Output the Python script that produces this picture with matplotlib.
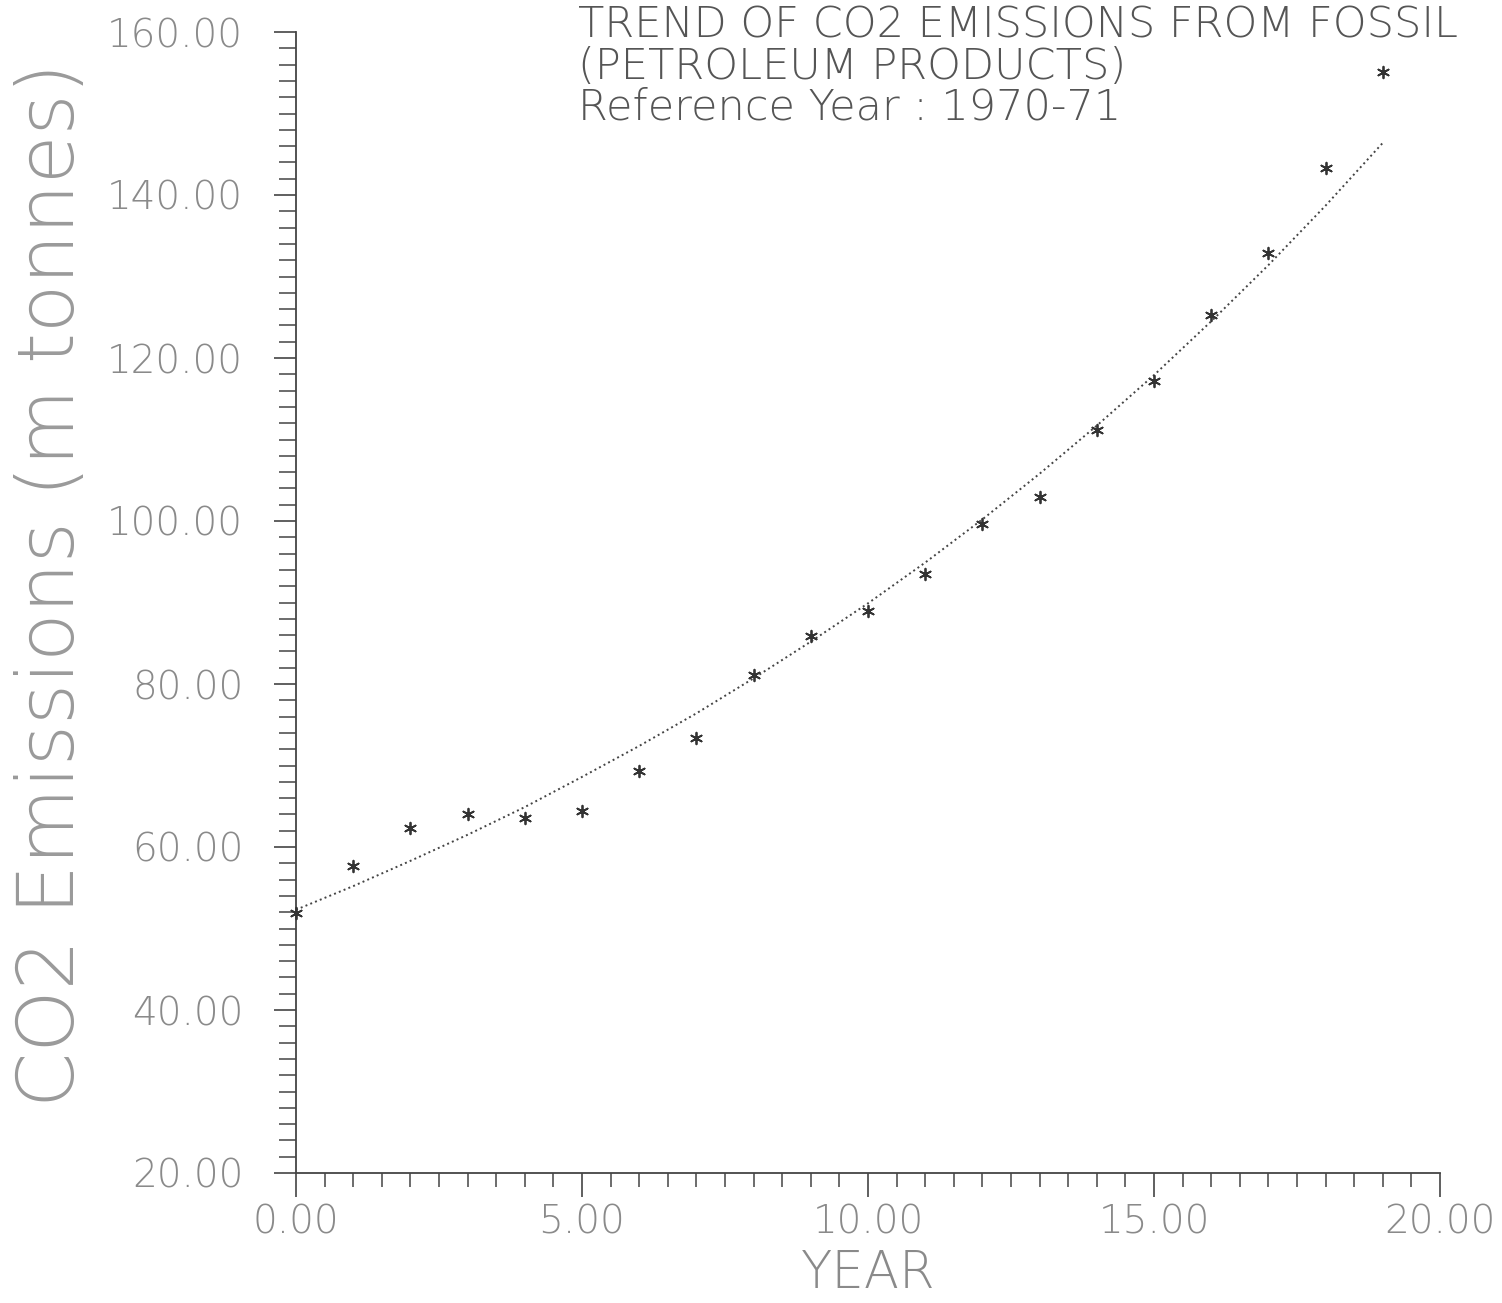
import matplotlib
matplotlib.use("Agg")
import matplotlib.pyplot as plt
from matplotlib.ticker import MultipleLocator, FormatStrFormatter

# years since reference year 1970-71
years = [0, 1, 2, 3, 4, 5, 6, 7, 8, 9, 10, 11, 12, 13, 14, 15, 16, 17, 18, 19]

emissions = [51.9, 57.7, 62.3, 64.0, 63.6, 64.4, 69.3, 73.4, 81.1, 85.9,
             89.0, 93.5, 99.6, 102.9, 111.2, 117.2, 125.3, 132.9, 143.3, 155.1]

# fitted trend line
trend = [52.3, 55.2, 58.3, 61.5, 64.9, 68.6, 72.4, 76.4, 80.7, 85.2,
         89.9, 94.9, 100.2, 105.8, 111.7, 117.9, 124.5, 131.4, 138.7, 146.4]

title_lines = ["TREND OF CO2 EMISSIONS FROM FOSSIL",
               "(PETROLEUM PRODUCTS)",
               "Reference Year : 1970-71"]

W, H = 1502, 1303
fig = plt.figure(figsize=(W / 100, H / 100), dpi=100)
ax = fig.add_axes([296 / W, 1 - 1173 / H, (1440 - 296) / W, (1173 - 32) / H])

ink = "#444444"
faint = "#8a8a8a"

ax.plot(years, trend, linestyle=":", color=ink, linewidth=1.4)
ax.scatter(years, emissions, marker=(6, 2, 0), s=70, color="#333333",
           linewidths=1.3, clip_on=False, zorder=3)

ax.set_xlim(0, 20)
ax.set_ylim(20, 160)

for side in ("top", "right"):
    ax.spines[side].set_visible(False)
for side in ("left", "bottom"):
    ax.spines[side].set_color(ink)
    ax.spines[side].set_linewidth(1.3)

ax.xaxis.set_major_locator(MultipleLocator(5))
ax.xaxis.set_minor_locator(MultipleLocator(0.5))
ax.yaxis.set_major_locator(MultipleLocator(20))
ax.yaxis.set_minor_locator(MultipleLocator(2))
ax.xaxis.set_major_formatter(FormatStrFormatter("%.2f"))
ax.yaxis.set_major_formatter(FormatStrFormatter("%.2f"))

ax.tick_params(axis="x", which="major", direction="out", length=17, width=1.2,
               color=ink, pad=5, labelsize=28, labelcolor=faint)
ax.tick_params(axis="x", which="minor", direction="out", length=10, width=1.1,
               color=ink)
ax.tick_params(axis="y", which="major", direction="out", length=16, width=1.2,
               color=ink, pad=22, labelsize=28, labelcolor=faint)
ax.tick_params(axis="y", which="minor", direction="out", length=12, width=1.1,
               color=ink)

for lab in ax.get_xticklabels() + ax.get_yticklabels():
    lab.set_fontweight("light")

fig.text(868 / W, 1 - 1288 / H, "YEAR", ha="center", va="baseline",
         fontsize=37, color=faint, fontweight="light")
fig.text(52 / W, 1 - 585 / H, "CO2 Emissions (m tonnes)", rotation=90,
         ha="center", va="center", fontsize=57, color="#9a9a9a",
         fontweight="light")

for i, line in enumerate(title_lines):
    fig.text(578 / W, 1 - (38 + 41 * i) / H, line, ha="left", va="baseline",
             fontsize=31, color="#555555", fontweight="light")

fig.savefig("out.png", dpi=100, facecolor="white")
